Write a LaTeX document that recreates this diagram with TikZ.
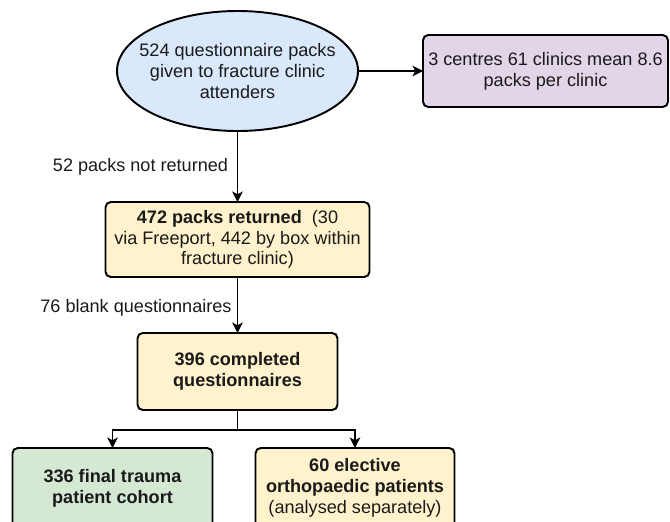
\documentclass[tikz,border=0pt]{standalone}
\usepackage{fontspec}
\setmainfont{Liberation Sans}
\usepackage{tikz}
\usetikzlibrary{positioning, arrows.meta, shapes.geometric}
\definecolor{packblue}{HTML}{DAE8FC}
\definecolor{centrepurple}{HTML}{E1D5E7}
\definecolor{boxyellow}{HTML}{FFF2CC}
\definecolor{cohortgreen}{HTML}{D5E8D4}
\definecolor{inkgray}{HTML}{1A1A1A}
\tikzset{txt/.style={font=\fontsize{10.3}{11.8}\selectfont, text=inkgray}}
\tikzset{dbox/.style={txt, draw, line width=1.1pt, rounded corners=3, inner sep=0pt, outer sep=0pt, align=center}}
\tikzset{dell/.style={txt, ellipse, draw, line width=1.1pt, inner xsep=-0.5cm, inner ysep=0pt, outer sep=0pt, align=center}}
\tikzset{arr2/.style={draw, -{Stealth[length=6pt, width=6pt, inset=1.6pt]}, line width=0.75pt}}
\tikzset{lbl/.style={txt, inner sep=5pt}}

\begin{document}
\begin{tikzpicture}
		\useasboundingbox (0,0) rectangle (13.4,-10.42);
		\clip (0,0) rectangle (13.4,-10.42);
		\node[dell, fill=packblue, minimum width=4.82cm, minimum height=2.4cm] (pack) at (4.75,-1.42)
			{524 questionnaire packs\\given to fracture clinic\\attenders};
		\node[dbox, fill=centrepurple, minimum width=4.9cm, minimum height=1.44cm,
			right=1.3cm of pack] (centres)
			{3 centres 61 clinics mean 8.6\\packs per clinic};
		\node[dbox, fill=boxyellow, minimum width=5.28cm, minimum height=1.5cm,
			below=1.42cm of pack] (returned)
			{\textbf{472 packs returned}\ \ (30\\via Freeport, 442 by box within\\fracture clinic)};
		\node[dbox, fill=boxyellow, minimum width=4cm, minimum height=1.54cm,
			below=1.12cm of returned] (completed)
			{\textbf{396 completed}\\\textbf{questionnaires}};
		% two cohorts, both cut by the page edge
		\node[dbox, fill=cohortgreen, minimum width=4cm, minimum height=1.6cm,
			below=0.76cm of completed, xshift=-2.5cm] (trauma)
			{\textbf{336 final trauma}\\\textbf{patient cohort}};
		\node[dbox, fill=boxyellow, minimum width=3.98cm, minimum height=1.6cm,
			below=0.76cm of completed, xshift=2.35cm] (elective)
			{\textbf{60 elective}\\\textbf{orthopaedic patients}\\(analysed separately)};
		\draw[arr2] (pack) -- (centres);
		\draw[arr2] (pack) --
			node[left, lbl]{52 packs not returned} (returned);
		\draw[arr2] (returned) --
			node[left, lbl, pos=0.55, inner sep=3pt]{76 blank questionnaires} (completed);
		\draw[arr2] (completed.south) -- ++(0,-0.4) -| (trauma.north);
		\draw[arr2] (completed.south) -- ++(0,-0.4) -| (elective.north);
\end{tikzpicture}
\end{document}
